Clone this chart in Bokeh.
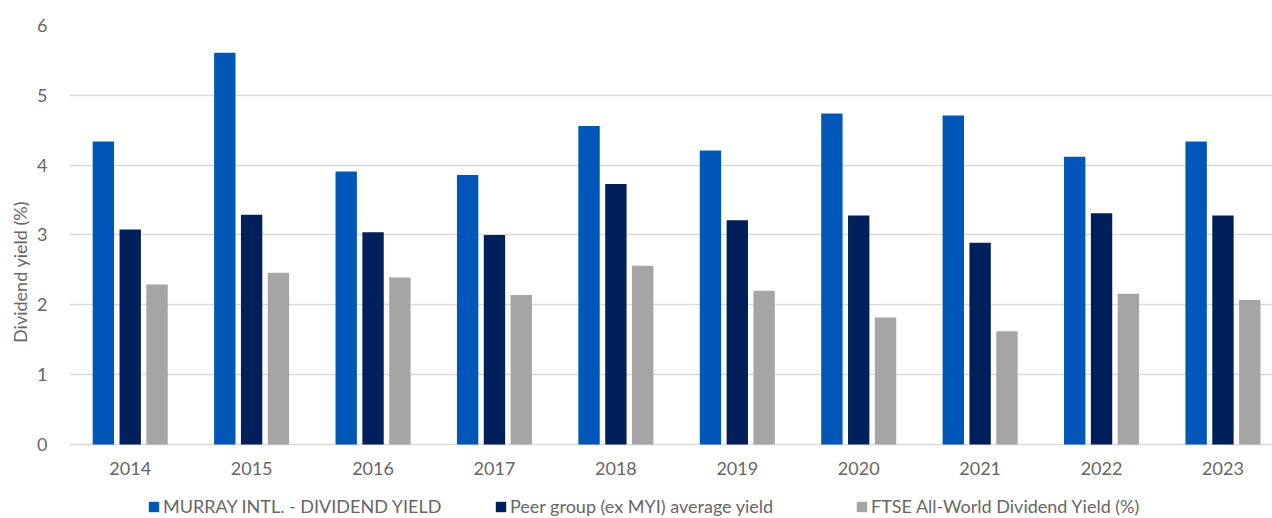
from bokeh.plotting import figure
from bokeh.models import Range1d, FixedTicker, Legend, LegendItem
from bokeh.embed import file_html
from bokeh.resources import INLINE

years = ["2014", "2015", "2016", "2017", "2018", "2019", "2020", "2021", "2022", "2023"]
murray = [4.34, 5.61, 3.91, 3.86, 4.56, 4.21, 4.74, 4.71, 4.12, 4.34]
peer = [3.08, 3.29, 3.04, 3.00, 3.73, 3.21, 3.28, 2.89, 3.31, 3.28]
ftse = [2.29, 2.46, 2.39, 2.14, 2.56, 2.20, 1.82, 1.62, 2.16, 2.07]
y_ticks = [0, 1, 2, 3, 4, 5, 6]
series_names = ["MURRAY INTL. - DIVIDEND YIELD", "Peer group (ex MYI) average yield",
                "FTSE All-World Dividend Yield (%)"]
colors = ["#0057B8", "#00205B", "#A5A5A5"]

FONT = "Lato"
TXT = "#666666"

# frame runs from y=25 px to the bottom edge; value 0 sits 74 px above the bottom
p = figure(width=1272, height=518, output_backend="svg", toolbar_location=None,
           x_axis_type=None,
           x_range=Range1d(0, 9.908), y_range=Range1d(-74 / 69.83, 6),
           min_border_left=69, min_border_right=0, min_border_top=25, min_border_bottom=0)
p.outline_line_color = None
p.background_fill_color = "white"
p.border_fill_color = "white"

centers = [i + 0.5 for i in range(len(years))]
offsets = [-0.221, 0.0, 0.221]
renderers = []
for vals, off, col in zip([murray, peer, ftse], offsets, colors):
    r = p.vbar(x=[c + off for c in centers], top=vals, bottom=0, width=0.176,
               fill_color=col, line_color=None)
    renderers.append(r)

# category labels under the baseline
p.text(x=centers, y=[0] * len(centers), text=years, text_align="center",
       text_baseline="top", y_offset=18, text_font={"value": FONT},
       text_font_size="18px", text_color=TXT)

p.yaxis.ticker = FixedTicker(ticks=y_ticks)
p.yaxis.axis_line_color = None
p.yaxis.major_tick_line_color = None
p.yaxis.minor_tick_line_color = None
p.yaxis.major_label_standoff = 16
p.yaxis.major_label_text_font = FONT
p.yaxis.major_label_text_font_size = "18px"
p.yaxis.major_label_text_color = TXT
p.yaxis.axis_label = "Dividend yield (%)"
p.yaxis.axis_label_text_font = FONT
p.yaxis.axis_label_text_font_size = "18px"
p.yaxis.axis_label_text_font_style = "normal"
p.yaxis.axis_label_text_color = TXT
p.yaxis.axis_label_standoff = 3

p.ygrid.grid_line_color = "#D9D9D9"
p.ygrid.grid_line_width = 1.5

legend_x = [147 - 69, 494 - 69, 855 - 69]
for name, r, lx in zip(series_names, renderers, legend_x):
    lg = Legend(items=[LegendItem(label=name, renderers=[r])],
                orientation="horizontal", location=(lx, 1))
    lg.border_line_color = None
    lg.background_fill_alpha = 0
    lg.padding = 0
    lg.margin = 0
    lg.glyph_width = 13
    lg.glyph_height = 13
    lg.label_standoff = 3
    lg.label_text_font = FONT
    lg.label_text_font_size = "18px"
    lg.label_text_color = TXT
    p.add_layout(lg, "center")

open("out.html", "w").write(file_html(p, INLINE))
